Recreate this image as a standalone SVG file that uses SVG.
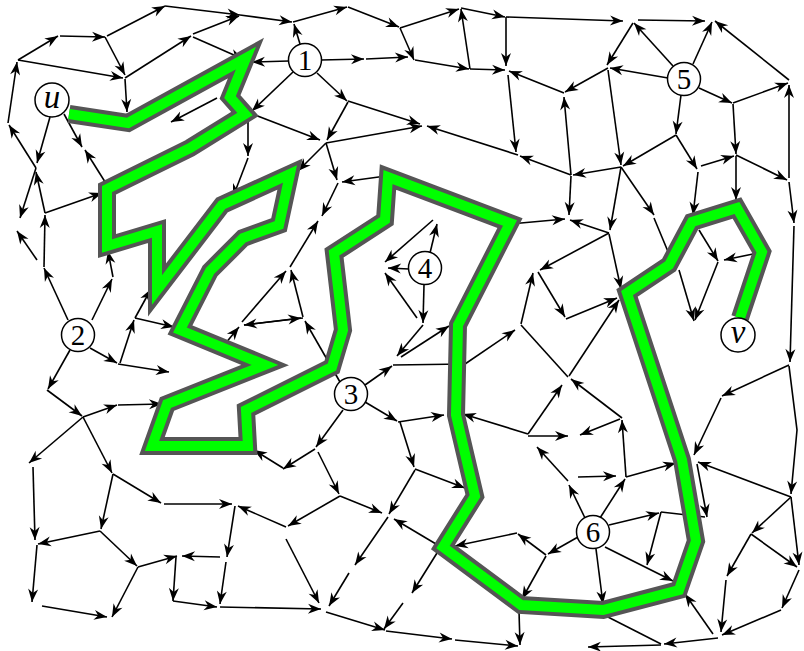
<svg xmlns="http://www.w3.org/2000/svg" width="804" height="651" viewBox="0 0 804 651">
<defs>
<marker id="ah" viewBox="-14 -6 15 12" refX="0" refY="0" markerWidth="15" markerHeight="12" markerUnits="userSpaceOnUse" orient="auto">
<path d="M0,0 L-13,-5 L-9,0 L-13,5 Z" fill="#000"/>
</marker>
</defs>
<style>
.e line{stroke:#000;stroke-width:1.6;marker-end:url(#ah)}
.e line.n{marker-end:none}
.hl1{fill:none;stroke:#555;stroke-width:18;stroke-linejoin:miter;stroke-miterlimit:10}
.hl2{fill:none;stroke:#00ff00;stroke-width:10;stroke-linejoin:miter;stroke-miterlimit:10}
.nd circle{fill:#fff;stroke:#000;stroke-width:1.5}
.nd text{font-family:"Liberation Serif","Times New Roman",serif;font-size:29px;text-anchor:middle;fill:#000}
.nd text.i{font-style:italic;font-size:33px}
</style>
<rect width="804" height="651" fill="#fff"/>
<g id="connectors" class="e">
<line x1="107" y1="36" x2="165" y2="6"/>
<line x1="165" y1="6" x2="240" y2="15"/>
<line x1="60" y1="36" x2="105" y2="37"/>
<line x1="18" y1="60" x2="58" y2="36"/>
<line x1="105" y1="37" x2="125" y2="75"/>
<line x1="18" y1="60" x2="123" y2="78"/>
<line x1="125" y1="78" x2="191" y2="36"/>
<line x1="193" y1="34" x2="239" y2="16"/>
<line x1="193" y1="37" x2="243" y2="59"/>
<line x1="289" y1="61" x2="252" y2="62"/>
<line x1="125" y1="79" x2="127" y2="112"/>
<line x1="217" y1="98" x2="171" y2="122"/>
<line x1="293" y1="72" x2="252" y2="111"/>
<line x1="248" y1="113" x2="248" y2="156"/>
<line x1="248" y1="158" x2="233" y2="197"/>
<line x1="8" y1="123" x2="17" y2="62"/>
<line x1="50" y1="117" x2="37" y2="163"/>
<line x1="36" y1="168" x2="20" y2="218"/>
<line x1="45" y1="213" x2="36" y2="172"/>
<line x1="36" y1="168" x2="9" y2="125"/>
<line x1="64" y1="114" x2="82" y2="147"/>
<line x1="107" y1="185" x2="85" y2="150"/>
<line x1="45" y1="213" x2="102" y2="193"/>
<line x1="240" y1="15" x2="292" y2="22"/>
<line x1="300" y1="44" x2="294" y2="24"/>
<line x1="293" y1="22" x2="347" y2="7"/>
<line x1="348" y1="7" x2="399" y2="27"/>
<line x1="400" y1="28" x2="459" y2="9"/>
<line x1="400" y1="28" x2="414" y2="60"/>
<line x1="321" y1="60" x2="364" y2="59"/>
<line x1="366" y1="59" x2="408" y2="57"/>
<line x1="415" y1="60" x2="469" y2="69"/>
<line x1="470" y1="69" x2="461" y2="9"/>
<line x1="470" y1="69" x2="505" y2="70"/>
<line x1="461" y1="8" x2="505" y2="17"/>
<line x1="506" y1="17" x2="506" y2="66"/>
<line x1="506" y1="17" x2="623" y2="21"/>
<line x1="564" y1="93" x2="509" y2="71"/>
<line x1="508" y1="75" x2="516" y2="152"/>
<line x1="571" y1="175" x2="520" y2="156"/>
<line x1="518" y1="155" x2="427" y2="126"/>
<line x1="317" y1="73" x2="347" y2="101"/>
<line x1="348" y1="101" x2="420" y2="124"/>
<line x1="348" y1="102" x2="327" y2="140"/>
<line x1="250" y1="113" x2="320" y2="140"/>
<line x1="326" y1="143" x2="422" y2="126"/>
<line x1="326" y1="143" x2="337" y2="180"/>
<line x1="326" y1="143" x2="298" y2="171"/>
<line x1="386" y1="176" x2="342" y2="182"/>
<line x1="338" y1="183" x2="322" y2="216"/>
<line x1="290" y1="267" x2="318" y2="221"/>
<line x1="242" y1="322" x2="286" y2="271"/>
<line x1="303" y1="317" x2="291" y2="270"/>
<line x1="220" y1="350" x2="239" y2="327"/>
<line x1="303" y1="318" x2="244" y2="325"/>
<line x1="244" y1="325" x2="301" y2="318"/>
<line x1="340" y1="382" x2="305" y2="321"/>
<line x1="433" y1="220" x2="385" y2="262"/>
<line x1="409" y1="269" x2="388" y2="268"/>
<line x1="430" y1="253" x2="437" y2="224"/>
<line x1="417" y1="318" x2="385" y2="273"/>
<line x1="424" y1="285" x2="423" y2="323"/>
<line x1="423" y1="325" x2="397" y2="356"/>
<line x1="365" y1="385" x2="392" y2="366"/>
<line class="n" x1="393" y1="365" x2="465" y2="364"/>
<line x1="465" y1="364" x2="515" y2="330"/>
<line x1="401" y1="357" x2="449" y2="326"/>
<line x1="521" y1="324" x2="533" y2="273"/>
<line class="n" x1="521" y1="325" x2="568" y2="377"/>
<line x1="622" y1="418" x2="571" y2="379"/>
<line x1="365" y1="402" x2="397" y2="421"/>
<line x1="398" y1="422" x2="444" y2="415"/>
<line x1="528" y1="434" x2="463" y2="414"/>
<line x1="528" y1="434" x2="562" y2="385"/>
<line x1="528" y1="436" x2="568" y2="436"/>
<line x1="620" y1="419" x2="580" y2="435"/>
<line x1="343" y1="410" x2="316" y2="447"/>
<line x1="315" y1="449" x2="283" y2="469"/>
<line x1="283" y1="468" x2="254" y2="450"/>
<line x1="318" y1="452" x2="339" y2="494"/>
<line x1="340" y1="496" x2="382" y2="513"/>
<line x1="340" y1="496" x2="288" y2="526"/>
<line x1="286" y1="527" x2="238" y2="506"/>
<line x1="400" y1="422" x2="414" y2="467"/>
<line x1="415" y1="469" x2="465" y2="488"/>
<line x1="415" y1="470" x2="389" y2="514"/>
<line x1="388" y1="517" x2="355" y2="565"/>
<line x1="349" y1="573" x2="329" y2="606"/>
<line x1="286" y1="539" x2="319" y2="603"/>
<line x1="326" y1="612" x2="385" y2="630"/>
<line x1="386" y1="631" x2="452" y2="639"/>
<line x1="455" y1="640" x2="518" y2="646"/>
<line x1="437" y1="553" x2="412" y2="593"/>
<line x1="403" y1="603" x2="384" y2="629"/>
<line x1="436" y1="544" x2="394" y2="519"/>
<line x1="517" y1="533" x2="455" y2="546"/>
<line x1="546" y1="555" x2="518" y2="534"/>
<line x1="546" y1="556" x2="522" y2="599"/>
<line x1="519" y1="611" x2="520" y2="645"/>
<line x1="578" y1="537" x2="548" y2="554"/>
<line x1="585" y1="518" x2="569" y2="485"/>
<line x1="568" y1="481" x2="537" y2="447"/>
<line x1="578" y1="477" x2="616" y2="476"/>
<line x1="600" y1="518" x2="625" y2="479"/>
<line x1="626" y1="477" x2="622" y2="420"/>
<line x1="626" y1="477" x2="676" y2="463"/>
<line x1="791" y1="497" x2="698" y2="462"/>
<line x1="721" y1="398" x2="694" y2="455"/>
<line x1="797" y1="430" x2="791" y2="494"/>
<line class="n" x1="789" y1="366" x2="797" y2="430"/>
<line x1="609" y1="525" x2="659" y2="513"/>
<line class="n" x1="661" y1="512" x2="705" y2="517"/>
<line x1="697" y1="464" x2="707" y2="517"/>
<line x1="661" y1="512" x2="647" y2="565"/>
<line x1="605" y1="547" x2="673" y2="581"/>
<line x1="596" y1="549" x2="603" y2="604"/>
<line x1="713" y1="634" x2="685" y2="594"/>
<line class="n" x1="606" y1="616" x2="661" y2="644"/>
<line x1="718" y1="638" x2="664" y2="644"/>
<line x1="661" y1="645" x2="588" y2="647"/>
<line x1="751" y1="534" x2="727" y2="576"/>
<line x1="726" y1="580" x2="721" y2="632"/>
<line x1="791" y1="497" x2="752" y2="533"/>
<line x1="791" y1="497" x2="799" y2="565"/>
<line x1="751" y1="534" x2="797" y2="567"/>
<line x1="799" y1="570" x2="782" y2="608"/>
<line x1="781" y1="610" x2="722" y2="635"/>
<line x1="789" y1="365" x2="722" y2="396"/>
<line x1="794" y1="226" x2="790" y2="362"/>
<line x1="753" y1="254" x2="724" y2="260"/>
<line x1="699" y1="230" x2="718" y2="261"/>
<line x1="718" y1="262" x2="695" y2="320"/>
<line x1="679" y1="270" x2="694" y2="321"/>
<line class="n" x1="654" y1="218" x2="669" y2="254"/>
<line x1="609" y1="233" x2="540" y2="270"/>
<line x1="538" y1="272" x2="565" y2="317"/>
<line x1="566" y1="319" x2="617" y2="298"/>
<line x1="569" y1="376" x2="619" y2="300"/>
<line x1="609" y1="233" x2="570" y2="220"/>
<line x1="510" y1="224" x2="565" y2="219"/>
<line x1="621" y1="167" x2="610" y2="230"/>
<line x1="609" y1="234" x2="621" y2="289"/>
<line x1="621" y1="167" x2="654" y2="215"/>
<line x1="571" y1="176" x2="569" y2="215"/>
<line x1="571" y1="175" x2="564" y2="97"/>
<line x1="608" y1="68" x2="565" y2="92"/>
<line x1="608" y1="70" x2="621" y2="165"/>
<line x1="676" y1="135" x2="623" y2="166"/>
<line x1="621" y1="167" x2="573" y2="175"/>
<line x1="681" y1="95" x2="676" y2="134"/>
<line x1="676" y1="135" x2="697" y2="169"/>
<line x1="698" y1="172" x2="693" y2="215"/>
<line x1="701" y1="166" x2="734" y2="156"/>
<line x1="699" y1="88" x2="732" y2="103"/>
<line x1="733" y1="103" x2="788" y2="83"/>
<line x1="789" y1="178" x2="789" y2="85"/>
<line x1="733" y1="104" x2="736" y2="154"/>
<line x1="736" y1="156" x2="736" y2="200"/>
<line x1="736" y1="155" x2="787" y2="180"/>
<line x1="789" y1="182" x2="794" y2="223"/>
<line x1="668" y1="78" x2="610" y2="68"/>
<line x1="673" y1="66" x2="634" y2="23"/>
<line x1="693" y1="64" x2="712" y2="22"/>
<line x1="789" y1="80" x2="715" y2="21"/>
<line x1="638" y1="20" x2="705" y2="21"/>
<line x1="633" y1="23" x2="607" y2="65"/>
<line x1="37" y1="260" x2="17" y2="231"/>
<line x1="68" y1="320" x2="44" y2="268"/>
<line x1="44" y1="267" x2="45" y2="215"/>
<line x1="92" y1="320" x2="112" y2="279"/>
<line x1="113" y1="277" x2="108" y2="251"/>
<line x1="90" y1="348" x2="117" y2="363"/>
<line x1="118" y1="364" x2="169" y2="372"/>
<line x1="120" y1="363" x2="134" y2="320"/>
<line x1="135" y1="318" x2="151" y2="289"/>
<line x1="135" y1="318" x2="174" y2="327"/>
<line x1="70" y1="350" x2="48" y2="389"/>
<line x1="47" y1="390" x2="82" y2="416"/>
<line x1="83" y1="417" x2="117" y2="405"/>
<line x1="118" y1="405" x2="162" y2="404"/>
<line x1="83" y1="417" x2="29" y2="463"/>
<line x1="83" y1="417" x2="112" y2="473"/>
<line x1="33" y1="467" x2="35" y2="540"/>
<line x1="113" y1="474" x2="101" y2="529"/>
<line x1="113" y1="474" x2="161" y2="503"/>
<line x1="164" y1="504" x2="232" y2="504"/>
<line x1="100" y1="531" x2="38" y2="544"/>
<line x1="100" y1="531" x2="137" y2="566"/>
<line x1="37" y1="545" x2="32" y2="602"/>
<line x1="42" y1="606" x2="107" y2="617"/>
<line x1="138" y1="567" x2="112" y2="617"/>
<line x1="138" y1="567" x2="177" y2="556"/>
<line x1="220" y1="557" x2="182" y2="556"/>
<line x1="176" y1="557" x2="173" y2="601"/>
<line x1="173" y1="601" x2="217" y2="607"/>
<line x1="235" y1="506" x2="227" y2="557"/>
<line x1="226" y1="562" x2="220" y2="604"/>
<line x1="220" y1="607" x2="321" y2="609"/>
</g>
<g id="path-u-v">
<polyline class="hl1" points="69,114 128,123 246,58 230,97 245,114 190,148 107,189 107,246 157,231 157,290 222,205 290,174 279,225 243,238 210,271 180,330 265,365 167,404 152,446 248,446 246,410 332,367 343,330 334,253 385,220 388,177 510,223 458,325 456,415 475,496 443,547 521,605 603,610 679,590 696,541 682,460 627,293 669,265 692,222 737,208 762,252 740,318"/>
<polyline class="hl2" points="69,114 128,123 246,58 230,97 245,114 190,148 107,189 107,246 157,231 157,290 222,205 290,174 279,225 243,238 210,271 180,330 265,365 167,404 152,446 248,446 246,410 332,367 343,330 334,253 385,220 388,177 510,223 458,325 456,415 475,496 443,547 521,605 603,610 679,590 696,541 682,460 627,293 669,265 692,222 737,208 762,252 740,318"/>
</g>
<g id="node-u" class="nd"><circle cx="52" cy="100" r="17"/><text class="i" x="52" y="108">u</text></g>
<g id="node-1" class="nd"><circle cx="305" cy="60" r="16.5"/><text x="305" y="70">1</text></g>
<g id="node-2" class="nd"><circle cx="78" cy="335" r="16.5"/><text x="78" y="345">2</text></g>
<g id="node-3" class="nd"><circle cx="351" cy="394" r="16.5"/><text x="351" y="404">3</text></g>
<g id="node-4" class="nd"><circle cx="425" cy="268" r="16.5"/><text x="425" y="278">4</text></g>
<g id="node-5" class="nd"><circle cx="684" cy="79" r="16.5"/><text x="684" y="89">5</text></g>
<g id="node-6" class="nd"><circle cx="593" cy="532" r="16.5"/><text x="593" y="542">6</text></g>
<g id="node-v" class="nd"><circle cx="738" cy="335" r="17"/><text class="i" x="738" y="343">v</text></g>
</svg>
